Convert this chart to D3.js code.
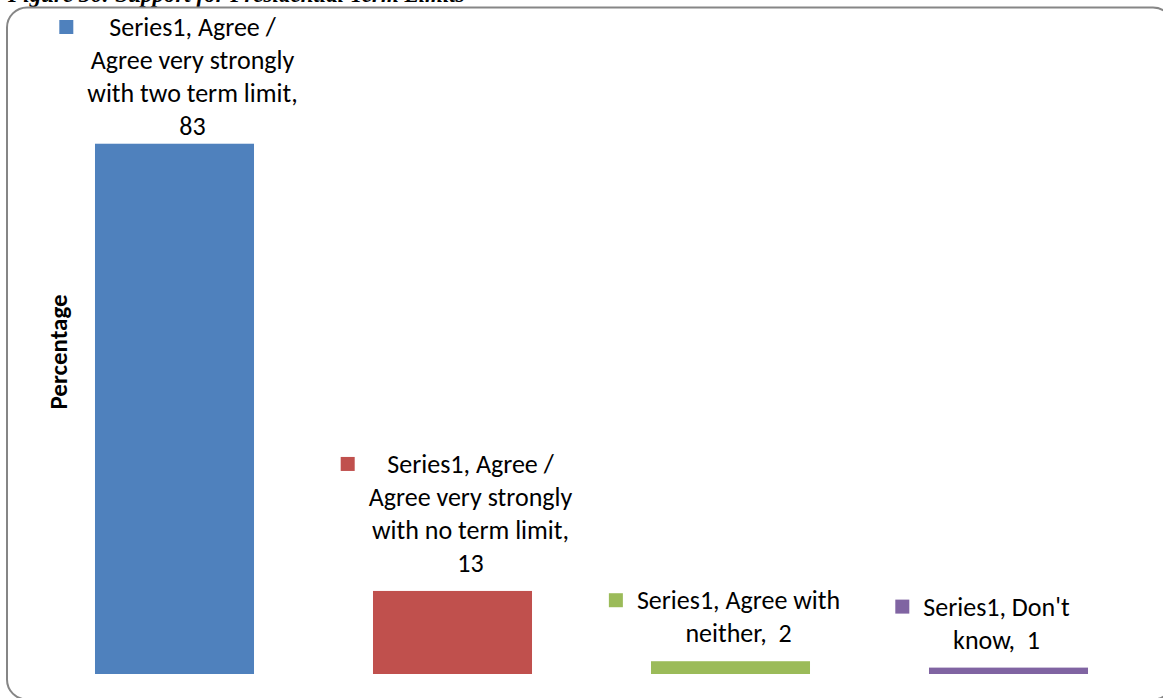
<!DOCTYPE html>
<html>
<head>
<meta charset="utf-8">
<script src="https://cdn.jsdelivr.net/npm/d3@7"></script>
<style>
  html, body { margin: 0; padding: 0; background: #fff; overflow: hidden; }
  svg { display: block; }
  .lbl { font-family: Carlito, Calibri, Lato, "Open Sans", sans-serif; font-size: 26px; fill: #000; white-space: pre; }
</style>
</head>
<body>
<script>
// Survey responses on presidential term limits (percent)
const seriesName = "Series1";
const categories = [
  "Agree / Agree very strongly with two term limit",
  "Agree / Agree very strongly with no term limit",
  "Agree with neither",
  "Don't know"
];
const values = [83, 13, 2, 1];
const colors = ["#4F81BD", "#C0504D", "#9BBB59", "#8064A2"];
const titleText = "Figure 36: Support for Presidential Term Limits";
const yTitle = "Percentage";

// Label layout: words per wrapped line, and horizontal nudge of each label
const wordsPerLine = [[3, 3, 4, 2], [3, 3, 4, 2], [3, 3], [2, 3]];
const labelShift = [18, 18, 8, -12];

const W = 1163, H = 698;
const svg = d3.select("body").append("svg").attr("width", W).attr("height", H);

// Document caption above the chart frame (runs off the top edge)
svg.append("text")
  .attr("x", 8).attr("y", 2)
  .attr("font-family", "'Liberation Serif', 'Times New Roman', serif")
  .attr("font-weight", "bold").attr("font-style", "italic")
  .attr("font-size", 23)
  .text(titleText);

// Chart frame with rounded corners
svg.append("rect")
  .attr("x", 7).attr("y", 7.5)
  .attr("width", 1166).attr("height", 692)
  .attr("rx", 20).attr("ry", 20)
  .attr("fill", "#fff").attr("stroke", "#868686").attr("stroke-width", 2);

const x = d3.scaleBand()
  .domain(categories)
  .range([35.5, 1147.5])
  .paddingInner(0.428)
  .paddingOuter(0.214);

const y = d3.scaleLinear().domain([0, 90]).range([674, 99]);

const data = categories.map((c, i) => ({ cat: c, v: values[i], color: colors[i], i }));

svg.append("g").selectAll("rect")
  .data(data)
  .join("rect")
  .attr("x", d => x(d.cat))
  .attr("y", d => y(d.v))
  .attr("width", x.bandwidth())
  .attr("height", d => y(0) - y(d.v))
  .attr("fill", d => d.color);

// Y axis title
svg.append("text")
  .attr("transform", "translate(67,352) rotate(-90)")
  .attr("text-anchor", "middle")
  .attr("font-family", "Carlito, Calibri, Lato, 'Open Sans', sans-serif")
  .attr("font-weight", "bold").attr("font-size", 25)
  .text(yTitle);

// Data labels: "Series, Category, Value" wrapped above each bar with a legend key
const lineGap = 33;
const labels = svg.append("g");
data.forEach(d => {
  const full = `${seriesName}, ${d.cat},  ${d.v}`;
  const words = full.split(" ");
  const lines = [];
  let k = 0;
  wordsPerLine[d.i].forEach(n => {
    lines.push(words.slice(k, k + n).join(" ").trim());
    k += n;
  });
  const cx = x(d.cat) + x.bandwidth() / 2 + labelShift[d.i];
  const lastBase = y(d.v) - 19;
  let firstBase = lastBase - (lines.length - 1) * lineGap;
  if (firstBase < 36) { firstBase = 36; }
  const t = labels.append("text")
    .attr("class", "lbl")
    .attr("text-anchor", "middle");
  lines.forEach((ln, j) => {
    t.append("tspan")
      .attr("x", cx)
      .attr("y", firstBase + j * lineGap)
      .text(ln);
  });
  let maxW = 0;
  t.selectAll("tspan").each(function () { maxW = Math.max(maxW, this.getComputedTextLength()); });
  labels.append("rect")
    .attr("x", cx - maxW / 2 - 28)
    .attr("y", firstBase - 16)
    .attr("width", 14).attr("height", 14)
    .attr("fill", d.color);
});
</script>
</body>
</html>
